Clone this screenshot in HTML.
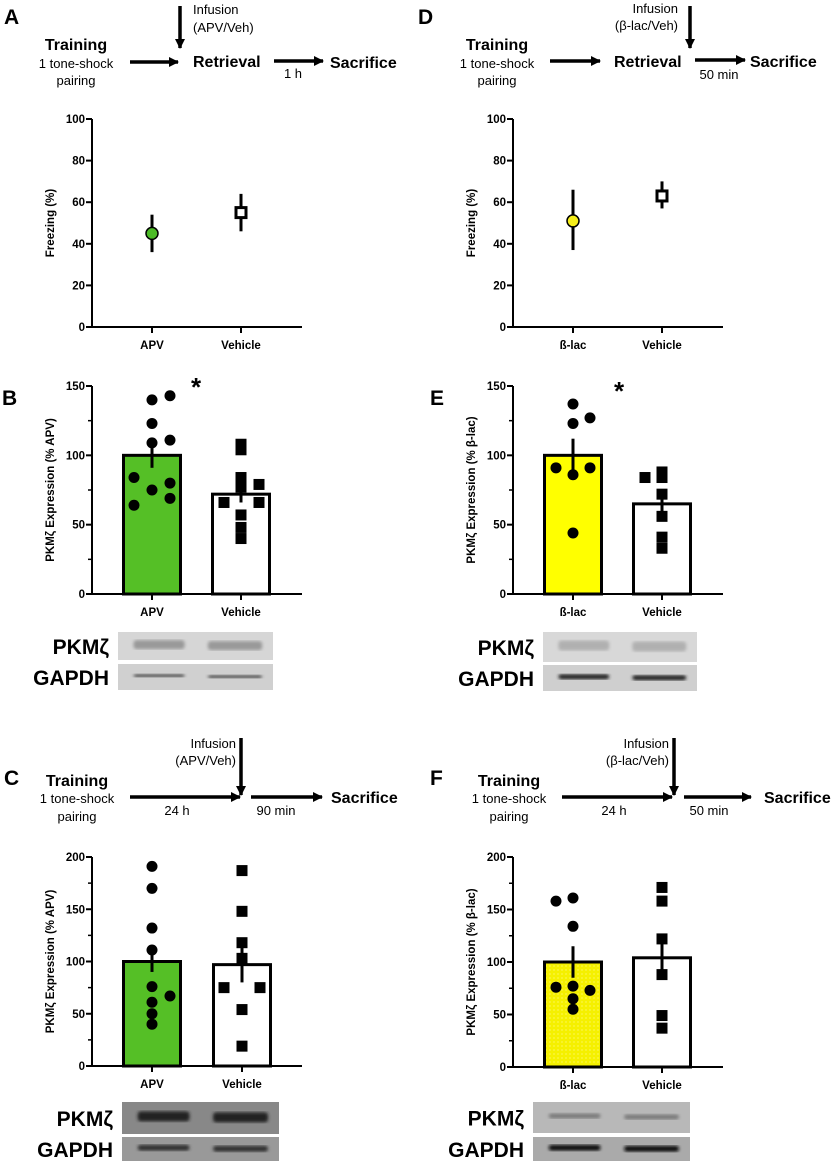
<!DOCTYPE html>
<html><head><meta charset="utf-8"><style>
body{margin:0;background:#fff}
svg{display:block;font-family:"Liberation Sans",sans-serif}
</style></head><body>
<svg id="fig" width="837" height="1163" viewBox="0 0 837 1163">
<defs>
<marker id="ah" markerWidth="10" markerHeight="10" refX="9" refY="5" orient="auto" markerUnits="userSpaceOnUse"><path d="M0,0 L10,5 L0,10 z" fill="#000"/></marker>
<pattern id="dots" width="4" height="4" patternUnits="userSpaceOnUse"><rect width="4" height="4" fill="#f5f000"/><circle cx="2" cy="2" r="0.6" fill="#fffb90"/></pattern>
<filter id="blur"><feGaussianBlur stdDeviation="1.6"/></filter>
</defs>
</svg>
<script>
// ---- data ----
const freezeCatsA = ["APV","Vehicle"];
const freezeMeanA = [45, 55];
const freezeSemA = [9, 9];
const freezeCatsD = ["ß-lac","Vehicle"];
const freezeMeanD = [51, 63];
const freezeLoD = [37, 57];
const freezeHiD = [66, 70];
const freezeTicks = [0,20,40,60,80,100];

const catsB = ["APV","Vehicle"];
const meanB = [100, 72];
const semB = [9, 6];
const ptsB_apv = [140,143,123,109,111,84,75,80,69,64];
const ptsB_veh = [108,104,84,77,79,66,66,57,48,40];
const ticksB = [0,50,100,150];

const catsE = ["ß-lac","Vehicle"];
const meanE = [100, 65];
const semE = [12, 6];
const ptsE_blac = [137,123,127,91,91,86,44];
const ptsE_veh = [84,88,84,72,56,41,33];

const catsC = ["APV","Vehicle"];
const meanC = [100, 97];
const semC = [10, 17];
const ptsC_apv = [191,170,132,111,76,67,61,50,40];
const ptsC_veh = [187,148,118,103,75,75,54,19];
const ticksC = [0,50,100,150,200];

const catsF = ["ß-lac","Vehicle"];
const meanF = [100, 104];
const semF = [15, 16];
const ptsF_blac = [158,161,134,76,77,73,65,55];
const ptsF_veh = [171,158,122,88,49,37];

const NS="http://www.w3.org/2000/svg";
const root=document.getElementById('fig');
function el(tag,attrs,parent,text){const e=document.createElementNS(NS,tag);for(const k in attrs)e.setAttribute(k,attrs[k]);if(text!==undefined)e.textContent=text;(parent||root).appendChild(e);return e;}
function txt(x,y,s,size,bold,anchor,parent){return el('text',{x:x,y:y,'font-size':size,'font-weight':bold?'bold':'normal','text-anchor':anchor||'start'},parent,s);}

// offsets (layout, not data)
const offB_apv=[0,18,0,0,18,-18,0,18,18,-18], offB_veh=[0,0,0,0,18,-17,18,0,0,0];
const offE_b=[0,0,17,-17,17,0,0], offE_v=[-17,0,0,0,0,0,0];
const offC_a=[0,0,0,0,0,18,0,0,0], offC_v=[0,0,0,0,-18,18,0,0];
const offF_b=[-17,0,0,-17,0,17,0,0], offF_v=[0,0,0,0,0,0];

function axisFrame(g,ax,y0,yTop,vmax,ticks,minor,xEnd,cx,cats,title){
  const sy=v=>y0-(y0-yTop)*v/vmax;
  let l=el('line',{x1:ax,y1:yTop,x2:ax,y2:y0,stroke:'#000','stroke-width':2},g);
  
  l=el('line',{x1:ax,y1:y0,x2:xEnd,y2:y0,stroke:'#000','stroke-width':2},g);
  
  ticks.forEach(t=>{el('line',{x1:ax-6,y1:sy(t),x2:ax,y2:sy(t),stroke:'#000','stroke-width':2},g);
    const tt=txt(ax-7,sy(t)+4,String(t),11.5,true,'end',g);
    });
  if(minor){for(let i=0;i<ticks.length-1;i++){const m=(ticks[i]+ticks[i+1])/2;el('line',{x1:ax-4,y1:sy(m),x2:ax,y2:sy(m),stroke:'#000','stroke-width':1.5},g);}}
  cats.forEach((c,i)=>{el('line',{x1:cx[i],y1:y0,x2:cx[i],y2:y0+6,stroke:'#000','stroke-width':2},g);
    const ct=txt(cx[i],y0+22,c,11.5,true,'middle',g);
    });
  const ym=(y0+yTop)/2;
  const yt=el('text',{x:0,y:0,'font-size':11.5,'font-weight':'bold','text-anchor':'middle',transform:`translate(${ax-38},${ym}) rotate(-90)`},g,title);
  
  return sy;
}

function barPanel(name,ax,y0,yTop,vmax,ticks,xEnd,cx,bw,cats,title,means,sems,fills,ptsA,offA,ptsV,offV){
  const g=el('g',{},root);
  
  const sy=axisFrame(g,ax,y0,yTop,vmax,ticks,true,xEnd,cx,cats,title);
  means.forEach((m,i)=>{
    const r=el('rect',{x:cx[i]-bw/2,y:sy(m),width:bw,height:y0-sy(m),fill:fills[i],stroke:'#000','stroke-width':3},g);
    
  });
  [ptsA,ptsV].forEach((pts,gi)=>{const off=gi?offV:offA;pts.forEach((v,j)=>{
    const x=cx[gi]+off[j],y=sy(v);
    let p;
    if(gi===0) p=el('circle',{cx:x,cy:y,r:5.5,fill:'#000'},g);
    else p=el('rect',{x:x-5.5,y:y-5.5,width:11,height:11,fill:'#000'},g);
    
  });});
  means.forEach((m,i)=>{
    const e=el('line',{x1:cx[i],y1:sy(m-sems[i]),x2:cx[i],y2:sy(m+sems[i]),stroke:'#000','stroke-width':3},g);
    
  });
  return sy;
}

// Panel A freezing
(function(){
  const g=el('g',{},root);
  const cx=[152,241];
  const sy=axisFrame(g,92,327,119,100,freezeTicks,false,302,cx,freezeCatsA,'Freezing (%)');
  freezeMeanA.forEach((m,i)=>{el('line',{x1:cx[i],y1:sy(m-freezeSemA[i]),x2:cx[i],y2:sy(m+freezeSemA[i]),stroke:'#000','stroke-width':3},g);});
  let p=el('circle',{cx:cx[0],cy:sy(freezeMeanA[0]),r:6,fill:'#4cbb26',stroke:'#000','stroke-width':1.5},g);
  
  p=el('rect',{x:cx[1]-5,y:sy(freezeMeanA[1])-5,width:10,height:10,fill:'#fff',stroke:'#000','stroke-width':3},g);
  
})();
// Panel D freezing
(function(){
  const g=el('g',{},root);
  const cx=[573,662];
  const sy=axisFrame(g,513,327,119,100,freezeTicks,false,723,cx,freezeCatsD,'Freezing (%)');
  freezeMeanD.forEach((m,i)=>{el('line',{x1:cx[i],y1:sy(freezeLoD[i]),x2:cx[i],y2:sy(freezeHiD[i]),stroke:'#000','stroke-width':3},g);});
  let p=el('circle',{cx:cx[0],cy:sy(freezeMeanD[0]),r:6,fill:'#f5ee1a',stroke:'#000','stroke-width':1.5},g);
  
  p=el('rect',{x:cx[1]-5,y:sy(freezeMeanD[1])-5,width:10,height:10,fill:'#fff',stroke:'#000','stroke-width':3},g);
  
})();

barPanel('bar-chart-b',92,594,386,150,ticksB,302,[152,241],57,catsB,'PKMζ Expression  (% APV)',meanB,semB,['#55bf26','#fff'],ptsB_apv,offB_apv,ptsB_veh,offB_veh);
barPanel('bar-chart-e',513,594,386,150,ticksB,723,[573,662],57,catsE,'PKMζ Expression  (% β-lac)',meanE,semE,['#ffff00','#fff'],ptsE_blac,offE_b,ptsE_veh,offE_v);
barPanel('bar-chart-c',92,1066,857,200,ticksC,302,[152,242],57,catsC,'PKMζ Expression  (% APV)',meanC,semC,['#55bf26','#fff'],ptsC_apv,offC_a,ptsC_veh,offC_v);
barPanel('bar-chart-f',513,1067,857,200,ticksC,723,[573,662],57,catsF,'PKMζ Expression  (% β-lac)',meanF,semF,['url(#dots)','#fff'],ptsF_blac,offF_b,ptsF_veh,offF_v);

// significance stars
[[196,382],[619,386]].forEach(p=>{const s=txt(p[0],p[1]+14,'*',26,true,'middle');});

// panel letters
[['A',4,24],['B',2,405],['C',4,785],['D',418,24],['E',430,405],['F',430,785]].forEach(a=>{const t=txt(a[1],a[2],a[0],21,true);});

// blots
function blot(name,x,y1,h1,y2,h2,w,bg1,bg2,band1,band2){
  const g=el('g',{},root);
  el('rect',{x:x,y:y1,width:w,height:h1,fill:bg1},g);
  el('rect',{x:x,y:y2,width:w,height:h2,fill:bg2},g);
  [[y1+h1*0.45,band1],[y2+h2*0.45,band2]].forEach(b=>{
    el('rect',{x:x+w*0.1,y:b[0]-b[1][1]/2,width:w*0.33,height:b[1][1],fill:b[1][0],filter:'url(#blur)',rx:3},g);
    el('rect',{x:x+w*0.58,y:b[0]-b[1][1]/2+1,width:w*0.35,height:b[1][1],fill:b[1][0],filter:'url(#blur)',rx:3},g);
  });
  let t=txt(x-9,y1+h1/2+8,'PKMζ',21,true,'end');
  t=txt(x-9,y2+h2/2+8,'GAPDH',21,true,'end');
}
blot('western-blot-b',118,632,28,664,26,155,'#d6d6d6','#d0d0d0',['#999',9],['#444',3]);
blot('western-blot-e',543,632,30,665,26,154,'#d8d8d8','#cfcfcf',['#b0b0b0',10],['#222',5]);
blot('western-blot-c',122,1102,32,1137,24,157,'#888','#999',['#222',10],['#333',6]);
blot('western-blot-f',533,1102,31,1137,24,157,'#b8b8b8','#aaa',['#7a7a7a',5],['#111',6]);

// timelines
function arrow(x1,y1,x2,y2,name){const a=el('line',{x1:x1,y1:y1,x2:x2,y2:y2,stroke:'#000','stroke-width':3.5,'marker-end':'url(#ah)'});}
function T(x,y,s,size,bold,anc,name){const t=txt(x,y,s,size,bold,anc);}
// A
T(76,50,'Training',16,true,'middle','timeline-training');
T(76,68,'1 tone-shock',13,false,'middle','timeline-training-desc');
T(76,85,'pairing',13,false,'middle','timeline-training-desc');
arrow(130,62,178,62,'timeline-arrow');
arrow(180,6,180,48,'infusion-arrow');
T(193,14,'Infusion',13,false,'start','infusion-label');
T(193,32,'(APV/Veh)',13,false,'start','infusion-label');
T(193,67,'Retrieval',16,true,'start','timeline-retrieval');
arrow(274,61,323,61,'timeline-arrow');
T(293,78,'1 h',13,false,'middle','timeline-interval');
T(330,68,'Sacrifice',16,true,'start','timeline-sacrifice');
// D
T(497,50,'Training',16,true,'middle','timeline-training');
T(497,68,'1 tone-shock',13,false,'middle','timeline-training-desc');
T(497,85,'pairing',13,false,'middle','timeline-training-desc');
arrow(550,61,600,61,'timeline-arrow');
arrow(690,6,690,48,'infusion-arrow');
T(678,13,'Infusion',13,false,'end','infusion-label');
T(678,30,'(β-lac/Veh)',13,false,'end','infusion-label');
T(614,67,'Retrieval',16,true,'start','timeline-retrieval');
arrow(695,60,745,60,'timeline-arrow');
T(719,79,'50 min',13,false,'middle','timeline-interval');
T(750,67,'Sacrifice',16,true,'start','timeline-sacrifice');
// C
T(77,786,'Training',16,true,'middle','timeline-training');
T(77,803,'1 tone-shock',13,false,'middle','timeline-training-desc');
T(77,821,'pairing',13,false,'middle','timeline-training-desc');
arrow(130,797,240,797,'timeline-arrow');
T(177,815,'24 h',13,false,'middle','timeline-interval');
arrow(241,738,241,795,'infusion-arrow');
T(236,748,'Infusion',13,false,'end','infusion-label');
T(236,765,'(APV/Veh)',13,false,'end','infusion-label');
arrow(251,797,322,797,'timeline-arrow');
T(276,815,'90 min',13,false,'middle','timeline-interval');
T(331,803,'Sacrifice',16,true,'start','timeline-sacrifice');
// F
T(509,786,'Training',16,true,'middle','timeline-training');
T(509,803,'1 tone-shock',13,false,'middle','timeline-training-desc');
T(509,821,'pairing',13,false,'middle','timeline-training-desc');
arrow(562,797,672,797,'timeline-arrow');
T(614,815,'24 h',13,false,'middle','timeline-interval');
arrow(674,738,674,795,'infusion-arrow');
T(669,748,'Infusion',13,false,'end','infusion-label');
T(669,765,'(β-lac/Veh)',13,false,'end','infusion-label');
arrow(684,797,751,797,'timeline-arrow');
T(709,815,'50 min',13,false,'middle','timeline-interval');
T(764,803,'Sacrifice',16,true,'start','timeline-sacrifice');
</script>
</body></html>
